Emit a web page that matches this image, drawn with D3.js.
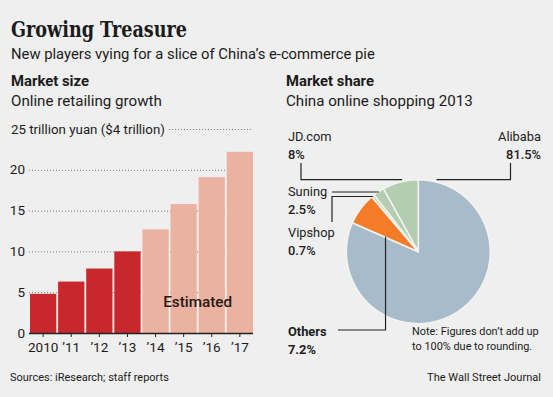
<!DOCTYPE html>
<html>
<head>
<meta charset="utf-8">
<title>Growing Treasure</title>
<script src="https://cdn.jsdelivr.net/npm/d3@7"></script>
<style>
body {
  margin: 0;
  background-color: #efefef;
}
svg text {
  font-family: Roboto, "Liberation Sans", sans-serif;
  fill: #1b1b1b;
}
.grid line {
  stroke: #7a7a7a;
  stroke-width: 1px;
  stroke-dasharray: 1,2;
}
.leader {
  fill: none;
  stroke: #222;
  stroke-width: 1.2px;
}
</style>
</head>
<body>
<svg width="553" height="397"></svg>
<script>
// bar chart data
var years = ["2010", "\u201911", "\u201912", "\u201913", "\u201914", "\u201915", "\u201916", "\u201917"];
var marketSize = [4.8, 6.3, 7.9, 10.0, 12.7, 15.8, 19.1, 22.2];
var firstEstimate = "\u201914";
var yTicks = [0, 5, 10, 15, 20, 25];

// pie data (clockwise from 12 o'clock)
var shareNames = ["Alibaba", "Others", "Vipshop", "Suning", "JD.com"];
var shareValues = [81.5, 7.2, 0.7, 2.5, 8];
var shareLabels = ["81.5%", "7.2%", "0.7%", "2.5%", "8%"];
var shareColors = ["#a8bbca", "#f47b27", "#c2d8bf", "#b5ceb2", "#b3cdb0"];

var svg = d3.select("svg");

// scale a text's font size so it spans w pixels, returns the new size
function fit(t, w) {
  var fs = parseFloat(t.style("font-size"));
  var nfs = fs * w / t.node().getComputedTextLength();
  t.style("font-size", nfs + "px");
  return nfs;
}
function label(x, y, txt, size, weight) {
  return svg.append("text").attr("x", x).attr("y", y)
      .style("font-size", size + "px").style("font-weight", weight || "normal").text(txt);
}

svg.append("rect").attr("width", 553).attr("height", 397).attr("fill", "#efefef");

// headings
svg.append("text").attr("x", 11).attr("y", 37)
    .attr("textLength", 176).attr("lengthAdjust", "spacingAndGlyphs")
    .style("font-family", "'DejaVu Serif', serif").style("font-weight", "bold").style("font-size", "22px")
    .text("Growing Treasure");
fit(label(11, 59, "New players vying for a slice of China\u2019s e-commerce pie", 15), 364);

fit(label(11, 86, "Market size", 15, "bold"), 78);
var subSize = fit(label(11, 106, "Online retailing growth", 15), 151);
fit(label(286, 86, "Market share", 15, "bold"), 88);
label(286, 106, "China online shopping 2013", subSize);

// ---- bar chart ----
var x = d3.scaleBand().domain(years).range([30, 253]).paddingInner(0.065).paddingOuter(0);
var y = d3.scaleLinear().domain([0, 25]).range([333, 129]);

var unitLabel = label(11, y(25) + 4.5, "25 trillion yuan ($4 trillion)", 13);
fit(unitLabel, 154);
var unitEnd = 11 + unitLabel.node().getComputedTextLength() + 4;

var grid = svg.append("g").attr("class", "grid");
grid.selectAll("line")
    .data(yTicks.filter(function(d) { return d > 0; }))
  .enter().append("line")
    .attr("x1", function(d) { return d === 25 ? unitEnd : 29; })
    .attr("x2", 253)
    .attr("y1", function(d) { return y(d) + 0.5; })
    .attr("y2", function(d) { return y(d) + 0.5; });

svg.append("g").selectAll("text")
    .data(yTicks.filter(function(d) { return d < 25; }))
  .enter().append("text")
    .attr("x", 25)
    .attr("y", function(d) { return y(d) + 4.5; })
    .attr("text-anchor", "end")
    .style("font-size", "13.5px")
    .text(function(d) { return d; });

var estIndex = years.indexOf(firstEstimate);
svg.append("g").selectAll("rect")
    .data(marketSize)
  .enter().append("rect")
    .attr("x", function(d, i) { return x(years[i]); })
    .attr("width", x.bandwidth())
    .attr("y", function(d) { return y(d); })
    .attr("height", function(d) { return y(0) - y(d); })
    .attr("fill", function(d, i) { return i < estIndex ? "#c8272b" : "#ebb2a1"; });

var est = svg.append("text")
    .attr("x", (x(firstEstimate) + x(years[years.length - 1]) + x.bandwidth()) / 2)
    .attr("y", 307)
    .attr("text-anchor", "middle")
    .style("font-size", "15px").style("font-weight", 500).style("fill", "#2a1712")
    .text("Estimated");
fit(est, 69);

var xAxis = svg.append("g").attr("transform", "translate(0," + y(0) + ")")
    .call(d3.axisBottom(x).tickSize(4).tickSizeOuter(0));
xAxis.select(".domain").attr("d", "M29,0.5H253").attr("stroke", "#222").attr("stroke-width", 1.5);
xAxis.selectAll(".tick line").attr("stroke", "#222");
xAxis.selectAll(".tick text").attr("dy", null).attr("y", 19)
    .style("font-family", "Roboto, sans-serif").style("font-size", "13.5px").attr("fill", "#1b1b1b");

// ---- pie chart ----
var cx = 418.3, cy = 251.7, r = 72;
var pie = d3.pie().sort(null).value(function(d) { return d; });
var arcs = pie(shareValues);
var arc = d3.arc().innerRadius(0).outerRadius(r);

var pg = svg.append("g").attr("transform", "translate(" + cx + "," + cy + ")");
pg.selectAll("path")
    .data(arcs)
  .enter().append("path")
    .attr("d", arc)
    .attr("fill", function(d, i) { return shareColors[i]; })
    .attr("stroke", "#f4f4f0")
    .attr("stroke-width", 1.5)
    .attr("stroke-linejoin", "round");

function pt(i, frac, rad) {
  var a = arcs[i].startAngle + (arcs[i].endAngle - arcs[i].startAngle) * frac;
  return [cx + rad * Math.sin(a), cy - rad * Math.cos(a)];
}

// leader lines
var jd = pt(4, 0.55, r), ali = pt(0, 0.05, r), sun = pt(3, 0.5, r), vip = pt(2, 0.5, r), oth = pt(1, 0.03, r * 0.5);
var leaders = [
  [[301, 163], [301, cy - r], [jd[0], cy - r]],
  [[510.5, 163], [510.5, cy - r], [ali[0], cy - r]],
  [[332, 192], [sun[0], 192]],
  [[332, 222], [332, 196.5], [vip[0], 196.5]],
  [[338, 330], [oth[0], 330], [oth[0], oth[1]]]
];
svg.append("g").selectAll("path")
    .data(leaders)
  .enter().append("path")
    .attr("class", "leader")
    .attr("d", d3.line());

// pie labels
var probe = label(0, -20, "Alibaba", 14);
var pieSize = fit(probe, 43);
probe.remove();
var labelPos = {
  "JD.com": {x: 288, y: 141, anchor: "start"},
  "Alibaba": {x: 541, y: 141, anchor: "end"},
  "Suning": {x: 288, y: 196, anchor: "start"},
  "Vipshop": {x: 288, y: 237, anchor: "start"},
  "Others": {x: 288, y: 336, anchor: "start", bold: true}
};
shareNames.forEach(function(name, i) {
  var p = labelPos[name];
  label(p.x, p.y, name, pieSize, p.bold ? "bold" : "normal").attr("text-anchor", p.anchor);
  label(p.x, p.y + 17.5, shareLabels[i], pieSize, p.bold ? "bold" : 500).attr("text-anchor", p.anchor);
});

var noteSize = fit(label(412, 335, "Note: Figures don\u2019t add up", 12), 127);
label(412, 349.5, "to 100% due to rounding.", noteSize);

// footer
fit(label(10, 380.5, "Sources: iResearch; staff reports", 12), 159);
fit(label(541, 380.5, "The Wall Street Journal", 12).attr("text-anchor", "end"), 114);
</script>
</body>
</html>
